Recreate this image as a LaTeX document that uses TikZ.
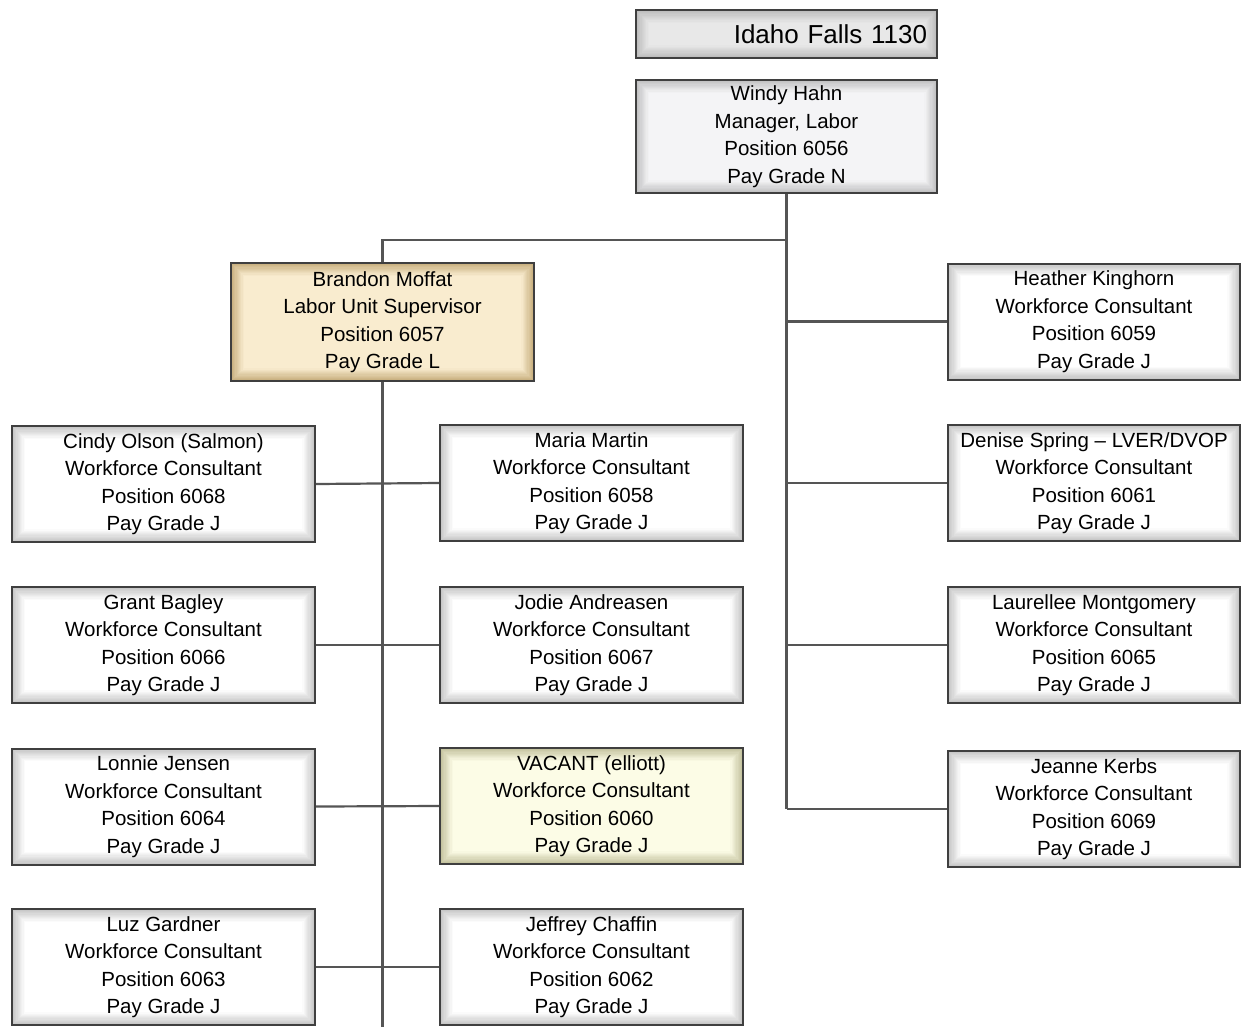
\documentclass[tikz,border=0pt]{standalone}
\usepackage{fontspec}
\setmainfont{Liberation Sans}
\definecolor{boxedge}{HTML}{3F3F3F}
\definecolor{boxshade}{HTML}{A0A0A0}
\definecolor{linegray}{HTML}{555555}
\definecolor{headfill}{HTML}{E8E8E8}
\definecolor{mgrfill}{HTML}{F4F4F6}
\definecolor{tanfill}{HTML}{F9ECCF}
\definecolor{tanshade}{HTML}{A8884A}
\definecolor{creamfill}{HTML}{FCFCE6}
\definecolor{creamshade}{HTML}{9E9B6E}
\begin{document}
\begin{tikzpicture}
    [
    x=1pt, y=-1pt,
    shadecol/.code={\def\shadecol{#1}},
    basecol/.code={\def\basecol{#1}},
    post/.style={
      rectangle,
      draw=boxedge,
      line width=2pt,
      basecol=white,
      fill=\basecol,
      shadecol=boxshade,
      path picture={
        \foreach \i [evaluate=\i as \s using 64-6*\i] in {10,...,0}
          \draw[line width=1.4pt, draw=\shadecol!\s!\basecol]
            ([xshift=\i*1.2pt, yshift=-\i*1.2pt]path picture bounding box.north west)
            rectangle
            ([xshift=-\i*1.2pt, yshift=\i*1.2pt]path picture bounding box.south east);
      },
      minimum width=303pt,
      minimum height=116pt,
      inner sep=2pt,
      align=center,
      font=\fontsize{20.5}{27.5}\selectfont
    },
    rightpost/.style={post, minimum width=292pt},
    header/.style={post, basecol=headfill, minimum width=301pt, minimum height=48pt,
      text width=281pt, align=right,
      font=\fontsize{26}{30}\selectfont},
    supervisor/.style={post, basecol=tanfill, shadecol=tanshade, minimum height=118pt},
    vacant/.style={post, basecol=creamfill, shadecol=creamshade},
    link/.style={draw=linegray, line width=2.2pt}
    ]
    \clip (0,0) rectangle (1241,1026);
    \fill[white] (0,0) rectangle (1241,1026);

    % office and manager
    \node (office) at (786.5,34) [header] {Idaho Falls 1130};
    \node (windy) at (786.5,136.5) [post, basecol=mgrfill, minimum width=301pt, minimum height=113pt]
      {Windy Hahn\\Manager, Labor\\Position 6056\\Pay Grade N};

    % supervisor
    \node (brandon) at (382.5,322) [supervisor]
      {Brandon Moffat\\Labor Unit Supervisor\\Position 6057\\Pay Grade L};

    % left column
    \node (cindy) at (163.5,484) [post]
      {Cindy Olson (Salmon)\\Workforce Consultant\\Position 6068\\Pay Grade J};
    \node (grant) at (163.5,645) [post]
      {Grant Bagley\\Workforce Consultant\\Position 6066\\Pay Grade J};
    \node (lonnie) at (163.5,806.5) [post]
      {Lonnie Jensen\\Workforce Consultant\\Position 6064\\Pay Grade J};
    \node (luz) at (163.5,967) [post]
      {Luz Gardner\\Workforce Consultant\\Position 6063\\Pay Grade J};

    % middle column
    \node (maria) at (591.5,483) [post]
      {Maria Martin\\Workforce Consultant\\Position 6058\\Pay Grade J};
    \node (jodie) at (591.5,645) [post]
      {Jodie Andreasen\\Workforce Consultant\\Position 6067\\Pay Grade J};
    \node (vacant) at (591.5,806) [vacant]
      {VACANT (elliott)\\Workforce Consultant\\Position 6060\\Pay Grade J};
    \node (jeffrey) at (591.5,967) [post]
      {Jeffrey Chaffin\\Workforce Consultant\\Position 6062\\Pay Grade J};

    % right column
    \node (heather) at (1094,321.5) [rightpost]
      {Heather Kinghorn\\Workforce Consultant\\Position 6059\\Pay Grade J};
    \node (denise) at (1094,483) [rightpost]
      {Denise Spring -- LVER/DVOP\\Workforce Consultant\\Position 6061\\Pay Grade J};
    \node (laurellee) at (1094,645) [rightpost]
      {Laurellee Montgomery\\Workforce Consultant\\Position 6065\\Pay Grade J};
    \node (jeanne) at (1094,809) [rightpost]
      {Jeanne Kerbs\\Workforce Consultant\\Position 6069\\Pay Grade J};

    \coordinate (split) at (786.5,240);
    \coordinate (bottom) at (382.5,1030);

    % connectors
    \draw[link] (windy.south) -- (windy.south |- jeanne.west);
    \draw[link] (brandon.north) |- (split);
    \draw[link] (brandon.south) -- (bottom);
    \draw[link] (windy.south |- heather.west) -- (heather.west);
    \draw[link] (windy.south |- denise.west) -- (denise.west);
    \draw[link] (windy.south |- laurellee.west) -- (laurellee.west);
    \draw[link] (windy.south |- jeanne.west) -- (jeanne.west);
    \draw[link] (cindy.east) -- (maria.west);
    \draw[link] (grant.east) -- (jodie.west);
    \draw[link] (lonnie.east) -- (vacant.west);
    \draw[link] (luz.east) -- (jeffrey.west);
  \end{tikzpicture}
\end{document}
